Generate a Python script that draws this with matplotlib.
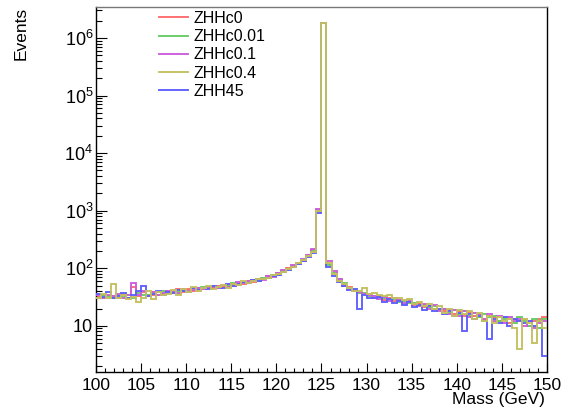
import numpy as np
import matplotlib
matplotlib.use("Agg")
from matplotlib import pyplot as plt
from matplotlib.ticker import LogLocator, FuncFormatter, MultipleLocator, NullFormatter

plt.rcParams['font.family'] = ['Liberation Sans', 'DejaVu Sans']
plt.rcParams['mathtext.fontset'] = 'custom'
plt.rcParams['mathtext.rm'] = 'Liberation Sans'
plt.rcParams['mathtext.it'] = 'Liberation Sans:italic'

# 90 mass bins from 100 to 150 GeV
mass_lo, mass_hi, n_bins = 100, 150, 90

labels = ['ZHHc0', 'ZHHc0.01', 'ZHHc0.1', 'ZHHc0.4', 'ZHH45']
colors = ['#ff6b6b', '#66cc66', '#cc5cdd', '#c4c05e', '#5e5eff']

zhhc0 = [32, 34, 31, 33, 30, 36, 31, 48, 33, 38, 34,
         35, 38, 36, 41, 37, 43, 39, 44, 41, 45, 46,
         48, 45, 50, 47, 52, 49, 56, 54, 60, 57, 65,
         64, 72, 72, 83, 86, 100, 104, 125, 136, 170, 205,
         1030, 1850000,
         118, 82, 62, 52, 47, 41, 38, 36, 35, 31, 33,
         28, 30, 27, 28, 24, 26, 23, 24, 21, 22, 20,
         20, 18, 19, 16, 18, 15, 17, 15, 16, 13, 15,
         14, 12, 14, 11, 13, 12, 13, 10, 12, 13, 14]

zhhc001 = [31, 35, 33, 30, 35, 33, 34, 31, 37, 34, 35,
           39, 35, 40, 37, 40, 38, 42, 40, 45, 43, 47,
           45, 49, 46, 51, 50, 55, 52, 58, 56, 62, 61,
           68, 68, 76, 78, 90, 95, 110, 120, 142, 162, 198,
           990, 1850000,
           112, 84, 64, 55, 44, 42, 37, 37, 33, 33, 30,
           31, 28, 29, 26, 27, 25, 25, 22, 23, 21, 22,
           19, 20, 17, 19, 16, 18, 15, 17, 14, 16, 14,
           15, 12, 13, 14, 11, 14, 12, 10, 13, 9, 13]

zhhc01 = [35, 30, 34, 33, 36, 31, 35, 55, 34, 40, 33,
          38, 34, 37, 40, 39, 37, 43, 41, 42, 46, 44,
          47, 48, 46, 52, 48, 53, 57, 55, 61, 59, 66,
          63, 73, 70, 82, 92, 97, 112, 118, 146, 168, 215,
          1070, 1850000,
          135, 88, 66, 50, 46, 40, 39, 36, 34, 33, 29,
          32, 27, 30, 28, 25, 27, 24, 22, 24, 20, 23,
          18, 20, 16, 19, 15, 18, 14, 17, 16, 13, 16,
          12, 15, 11, 14, 12, 13, 10, 12, 9, 11, 12]

zhhc04 = [30, 36, 30, 54, 31, 34, 29, 32, 26, 30, 41,
          29, 39, 35, 36, 42, 35, 44, 38, 47, 40, 46,
          50, 44, 48, 52, 46, 54, 51, 60, 56, 61, 64,
          65, 69, 75, 79, 87, 99, 106, 124, 138, 166, 195,
          1000, 1850000,
          125, 78, 60, 54, 45, 40, 41, 45, 36, 37, 34,
          33, 35, 31, 30, 28, 29, 24, 26, 22, 24, 20,
          22, 17, 20, 15, 19, 16, 18, 13, 17, 12, 15,
          11, 14, 12, 13, 9, 4, 13, 11, 5, 12, 9]

zhh45 = [36, 32, 38, 31, 33, 37, 30, 34, 41, 50, 33,
         36, 41, 35, 38, 37, 42, 40, 39, 46, 42, 45,
         43, 49, 47, 46, 53, 50, 54, 57, 55, 62, 60,
         66, 67, 73, 76, 85, 93, 104, 117, 135, 158, 185,
         920, 1850000,
         105, 72, 57, 49, 42, 43, 20, 34, 31, 30, 32,
         26, 29, 25, 27, 23, 26, 21, 23, 19, 22, 18,
         20, 16, 18, 15, 17, 8, 16, 13, 15, 12, 6,
         13, 11, 14, 10, 13, 12, 11, 12, 10, 12, 3]

series = [zhhc0, zhhc001, zhhc01, zhhc04, zhh45]
zorders = [2, 3, 4, 6, 5]

edges = np.linspace(mass_lo, mass_hi, n_bins + 1)

fig = plt.figure(figsize=(5.61, 4.09), dpi=100)
ax = fig.add_axes([0.1711, 0.0905, 0.8039, 0.8924])

for vals, lab, col, zo in zip(series, labels, colors, zorders):
    ax.stairs(vals, edges, baseline=None, color=col, lw=1.35, label=lab, zorder=zo)

ax.set_yscale('log')
ax.set_xlim(mass_lo, mass_hi)
ax.set_ylim(1.58, 3.45e6)

ax.xaxis.set_major_locator(MultipleLocator(5))
ax.xaxis.set_minor_locator(MultipleLocator(1))
ax.yaxis.set_major_locator(LogLocator(base=10, numticks=20))
ax.yaxis.set_minor_locator(LogLocator(base=10, subs=np.arange(2, 10), numticks=20))
ax.yaxis.set_minor_formatter(NullFormatter())


def exp_label(v, pos):
    # ROOT style: plain "10" for the first decade, 10^n above, nothing below the range
    n = int(round(np.log10(v)))
    if n < 1:
        return ''
    if n == 1:
        return '10'
    return r'$10^{%d}$' % n


ax.yaxis.set_major_formatter(FuncFormatter(exp_label))

ax.tick_params(axis='x', which='major', direction='in', length=6.5, width=0.8,
               labelsize=12.5, pad=4, top=False)
ax.tick_params(axis='x', which='minor', direction='in', length=3.2, width=0.8, top=False)
ax.tick_params(axis='y', which='major', direction='in', length=8, width=0.8,
               labelsize=13, pad=2, right=False)
ax.tick_params(axis='y', which='minor', direction='in', length=4.3, width=0.8, right=False)

for sp in ax.spines.values():
    sp.set_linewidth(1.0)
ax.spines['top'].set_color('#777777')

ax.set_xlabel('Mass (GeV)', fontsize=12.5, loc='right')
ax.xaxis.set_label_coords(0.996, -0.055)
ax.set_ylabel('Events', fontsize=12.5, loc='top')
ax.yaxis.set_label_coords(-0.15, 1.0)

ax.legend(frameon=False, loc='upper left', bbox_to_anchor=(0.283, 0.973),
          bbox_transform=fig.transFigure, fontsize=11.5, handlelength=1.85,
          handletextpad=0.35, labelspacing=0.2, borderpad=0, borderaxespad=0)

fig.savefig('out.png', dpi=100)
